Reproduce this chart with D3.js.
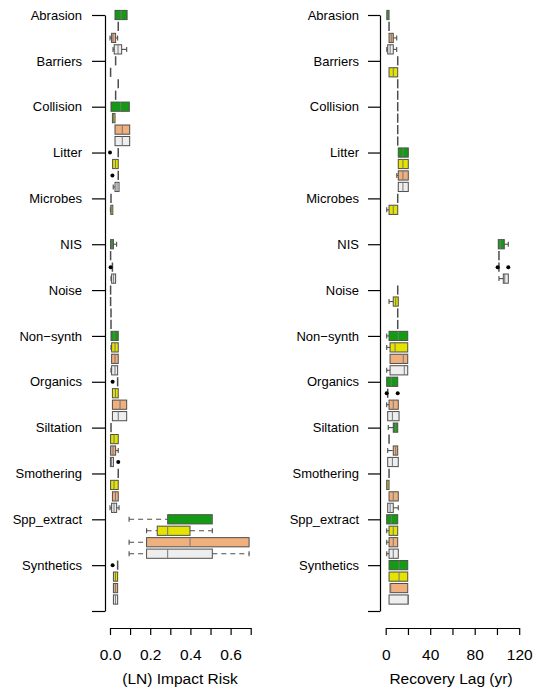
<!DOCTYPE html>
<html>
<head>
<meta charset="utf-8">
<script src="https://cdn.jsdelivr.net/npm/d3@7"></script>
<style>
  body { margin: 0; background: #fff; }
  svg text { font-family: "Liberation Sans", Arial, Helvetica, sans-serif; fill: #000; }
</style>
</head>
<body>
<div id="chart"></div>
<script>
// categories (the last axis slot is empty, as in the original)
var categories = ['Abrasion', 'Barriers', 'Collision', 'Litter', 'Microbes', 'NIS', 'Noise',
                  'Non\u2212synth', 'Organics', 'Siltation', 'Smothering', 'Spp_extract', 'Synthetics'];

var seriesColors = ['#139c13', '#e4e400', '#efb07e', '#eeeeee'];

// each entry: [lower whisker, Q1, median, Q3, upper whisker], null = no box
// (LN) Impact Risk
var riskGreen = [
  [0.025, 0.025, 0.055, 0.085, 0.085], [0.028, 0.028, 0.028, 0.028, 0.028], [0.005, 0.005, 0.053, 0.096, 0.096],
  [0.041, 0.041, 0.041, 0.041, 0.041], [0.005, 0.005, 0.005, 0.005, 0.005], [0.003, 0.003, 0.01, 0.017, 0.033],
  [0.003, 0.003, 0.003, 0.003, 0.003], [0.005, 0.005, 0.02, 0.041, 0.041], [0.038, 0.038, 0.038, 0.038, 0.038],
  [0.005, 0.005, 0.005, 0.005, 0.005], [0.041, 0.041, 0.041, 0.041, 0.041], [0.095, 0.287, 0.509, 0.509, 0.509],
  [0.038, 0.038, 0.038, 0.038, 0.038]
];
var riskYellow = [
  [0.041, 0.041, 0.041, 0.041, 0.041], [0.003, 0.003, 0.003, 0.003, 0.003], [0.012, 0.012, 0.018, 0.025, 0.025],
  [0.013, 0.013, 0.027, 0.041, 0.041], [0.002, 0.004, 0.006, 0.014, 0.014], [0.003, 0.003, 0.003, 0.003, 0.003],
  [0.003, 0.003, 0.003, 0.003, 0.003], [0.005, 0.008, 0.025, 0.041, 0.041], [0.012, 0.012, 0.027, 0.041, 0.041],
  [0.003, 0.003, 0.02, 0.041, 0.041], [0.003, 0.003, 0.02, 0.041, 0.041], [0.182, 0.235, 0.287, 0.398, 0.509],
  [0.017, 0.017, 0.027, 0.038, 0.038]
];
var riskOrange = [
  [0.0, 0.008, 0.015, 0.028, 0.038], [0.041, 0.041, 0.041, 0.041, 0.041], [0.025, 0.025, 0.061, 0.098, 0.098],
  [0.041, 0.041, 0.041, 0.041, 0.041], null, [0.012, 0.012, 0.012, 0.012, 0.012],
  [0.005, 0.005, 0.005, 0.005, 0.005], [0.008, 0.008, 0.025, 0.041, 0.041], [0.012, 0.012, 0.05, 0.083, 0.083],
  [0.003, 0.003, 0.015, 0.028, 0.041], [0.012, 0.012, 0.027, 0.041, 0.041], [0.095, 0.182, 0.398, 0.692, 0.692],
  [0.017, 0.017, 0.027, 0.038, 0.038]
];
var riskGrey = [
  [0.015, 0.021, 0.04, 0.058, 0.083], [0.028, 0.028, 0.028, 0.028, 0.028], [0.025, 0.025, 0.061, 0.098, 0.098],
  [0.016, 0.025, 0.035, 0.045, 0.045], null, [0.005, 0.008, 0.018, 0.028, 0.028],
  [0.005, 0.005, 0.005, 0.005, 0.005], [0.005, 0.008, 0.025, 0.038, 0.038], [0.012, 0.012, 0.041, 0.083, 0.083],
  [0.002, 0.002, 0.008, 0.017, 0.017], [0.0, 0.008, 0.02, 0.033, 0.045], [0.095, 0.182, 0.287, 0.509, 0.692],
  [0.017, 0.017, 0.027, 0.038, 0.038]
];
// [category index, series index, value]
var riskOutliers = [[3, 0, 0.0], [8, 0, 0.013], [12, 0, 0.013], [3, 2, 0.012], [5, 2, 0.003], [9, 3, 0.041]];

// Recovery Lag (yr)
var lagGreen = [
  [1, 1, 2, 3, 3], [10.8, 10.8, 10.8, 10.8, 10.8], [10.8, 10.8, 10.8, 10.8, 10.8],
  [11.3, 11.3, 15.5, 20.3, 20.3], [10.8, 10.8, 10.8, 10.8, 10.8], [101.2, 101.2, 103, 106.6, 110.2],
  [10.8, 10.8, 10.8, 10.8, 10.8], [0.9, 3, 11.3, 19.8, 19.8], [0.9, 0.9, 5, 10.8, 10.8],
  [2.3, 6.8, 9, 10.8, 10.8], [3, 3, 3, 3, 3], [0.9, 0.9, 5, 10.8, 10.8],
  [3, 3, 12, 19.8, 19.8]
];
var lagYellow = [
  [3, 3, 3, 3, 3], [3, 3, 6.8, 10.8, 10.8], [10.8, 10.8, 10.8, 10.8, 10.8],
  [11.3, 11.3, 15.5, 20.3, 20.3], [0.9, 3, 6.8, 10.8, 10.8], [101.8, 101.8, 101.8, 101.8, 101.8],
  [3, 6.8, 9, 11.3, 11.3], [0.9, 3.9, 8.4, 19.8, 19.8], [1.8, 1.8, 1.8, 1.8, 1.8],
  [3, 3, 3, 3, 3], [0.9, 0.9, 2, 3, 3], [0.9, 3, 6.8, 10.8, 10.8],
  [3, 3, 12, 19.8, 19.8]
];
var lagOrange = [
  [3, 3, 5, 6.8, 9.9], [10.8, 10.8, 10.8, 10.8, 10.8], [10.8, 10.8, 10.8, 10.8, 10.8],
  [10, 11.3, 15.5, 20.3, 20.3], null, [101.8, 101.8, 101.8, 101.8, 101.8],
  [10.8, 10.8, 10.8, 10.8, 10.8], [3.9, 3.9, 15.8, 19.8, 19.8], [0.9, 3, 6.8, 11.3, 11.3],
  [1.8, 6.8, 9, 10.8, 10.8], [3, 3, 6.8, 11.3, 11.3], [0.9, 3, 6.8, 10.8, 10.8],
  [3.9, 3.9, 4.5, 19.8, 19.8]
];
var lagGrey = [
  [1, 1.8, 4, 6.8, 9.9], [10.8, 10.8, 10.8, 10.8, 10.8], [10.8, 10.8, 10.8, 10.8, 10.8],
  [11.3, 11.3, 15.5, 20.3, 20.3], null, [101.8, 105.7, 107, 110.2, 110.2],
  [10.8, 10.8, 10.8, 10.8, 10.8], [0.9, 3.9, 16.7, 19.8, 19.8], [1.8, 1.8, 6, 12, 12],
  [1.8, 1.8, 6, 11.3, 11.3], [1.8, 1.8, 4, 6.8, 11.3], [0.9, 3, 6.8, 11.3, 11.3],
  [3, 3, 20, 20.3, 20.3]
];
var lagOutliers = [[8, 1, 0.9], [8, 1, 10.8], [5, 2, 100.6], [5, 2, 110.2]];

var riskTicks = [0, 0.1, 0.2, 0.3, 0.4, 0.5, 0.6, 0.7],
    riskLabels = [0, 0.2, 0.4, 0.6],
    lagTicks = [0, 20, 40, 60, 80, 100, 120],
    lagLabels = [0, 40, 80, 120];

var width = 536,
    height = 689,
    nSeries = 4;

var svg = d3.select('#chart')
            .append('svg')
            .attr('width', width)
            .attr('height', height);

// one row per box, 4 rows per category, plus an empty slot at the end
var y = d3.scaleLinear().domain([0, categories.length * nSeries]).range([15, 611]);

var panels = [
  {
    series: [riskGreen, riskYellow, riskOrange, riskGrey],
    outliers: riskOutliers,
    x: d3.scaleLinear().domain([0, 0.7]).range([110, 250.7]),
    ticks: riskTicks, labels: riskLabels, fmt: d3.format('.1f'),
    axisX: 105, tickLen: 13, pad: 10,
    title: '(LN) Impact Risk', titleX: 180
  },
  {
    series: [lagGreen, lagYellow, lagOrange, lagGrey],
    outliers: lagOutliers,
    x: d3.scaleLinear().domain([0, 120]).range([385.7, 519.2]),
    ticks: lagTicks, labels: lagLabels, fmt: d3.format('d'),
    axisX: 380, tickLen: 12, pad: 9,
    title: 'Recovery Lag (yr)', titleX: 451
  }
];

panels.forEach(drawPanel);

function drawPanel(p) {
  var x = p.x,
      g = svg.append('g'),
      half = 4.6,
      stapleHalf = 2.5,
      lineCol = '#4d4d4d';

  // category axis
  var catTicks = d3.range(0, categories.length * nSeries + 1, nSeries);
  var yAxis = d3.axisLeft(y)
                .tickValues(catTicks)
                .tickSize(p.tickLen)
                .tickSizeOuter(0)
                .tickPadding(p.pad)
                .tickFormat(function(d) { return categories[d / nSeries] || ''; });

  var ya = g.append('g')
            .attr('transform', 'translate(' + p.axisX + ',0)')
            .call(yAxis);
  ya.selectAll('text').style('font-size', '13px').attr('fill', '#000');
  ya.selectAll('line, path').attr('stroke', '#000').attr('stroke-width', 1.2);

  // value axis
  var xAxis = d3.axisBottom(x)
                .tickValues(p.ticks)
                .tickSize(7)
                .tickSizeOuter(0)
                .tickPadding(14)
                .tickFormat(function(d) {
                  return p.labels.indexOf(d) >= 0 ? p.fmt(d) : '';
                });

  var xa = g.append('g')
            .attr('transform', 'translate(0,628)')
            .call(xAxis);
  xa.selectAll('text').style('font-size', '15.5px').attr('fill', '#000');
  xa.selectAll('line, path').attr('stroke', '#000').attr('stroke-width', 1.2);

  g.append('text')
   .attr('x', p.titleX)
   .attr('y', 684)
   .attr('text-anchor', 'middle')
   .style('font-size', '15.5px')
   .text(p.title);

  // boxes
  var boxes = [];
  p.series.forEach(function(arr, j) {
    arr.forEach(function(s, i) {
      if (s) boxes.push({ cat: i, ser: j, s: s });
    });
  });

  var bg = g.selectAll('.box')
            .data(boxes)
            .enter()
            .append('g')
            .attr('class', 'box')
            .attr('transform', function(d) { return 'translate(0,' + y(d.cat * nSeries + d.ser) + ')'; });

  bg.each(function(d) {
    var el = d3.select(this),
        s = d.s;

    // whiskers
    [[s[0], s[1]], [s[3], s[4]]].forEach(function(w) {
      if (w[0] === w[1]) return;
      el.append('line')
        .attr('x1', x(w[0])).attr('x2', x(w[1]))
        .attr('y1', 0).attr('y2', 0)
        .attr('stroke', lineCol)
        .attr('stroke-width', 1.1)
        .attr('stroke-dasharray', '5,4');
    });
    [s[0], s[4]].forEach(function(v, k) {
      if (v === (k === 0 ? s[1] : s[3])) return;
      el.append('line')
        .attr('x1', x(v)).attr('x2', x(v))
        .attr('y1', -stapleHalf).attr('y2', stapleHalf)
        .attr('stroke', lineCol)
        .attr('stroke-width', 1.1);
    });

    if (s[1] === s[3]) {
      // all values equal: box collapses to a line
      el.append('line')
        .attr('x1', x(s[2])).attr('x2', x(s[2]))
        .attr('y1', -half).attr('y2', half)
        .attr('stroke', lineCol)
        .attr('stroke-width', 1.5);
      return;
    }

    el.append('rect')
      .attr('x', x(s[1]))
      .attr('y', -half)
      .attr('width', x(s[3]) - x(s[1]))
      .attr('height', half * 2)
      .attr('fill', seriesColors[d.ser])
      .attr('stroke', lineCol)
      .attr('stroke-width', 1);

    el.append('line')
      .attr('x1', x(s[2])).attr('x2', x(s[2]))
      .attr('y1', -half).attr('y2', half)
      .attr('stroke', '#777')
      .attr('stroke-width', 1);
  });

  // outlying points
  g.selectAll('.outlier')
   .data(p.outliers)
   .enter()
   .append('circle')
   .attr('class', 'outlier')
   .attr('cx', function(d) { return x(d[2]); })
   .attr('cy', function(d) { return y(d[0] * nSeries + d[1]); })
   .attr('r', 2)
   .attr('fill', '#000');
}
</script>
</body>
</html>
